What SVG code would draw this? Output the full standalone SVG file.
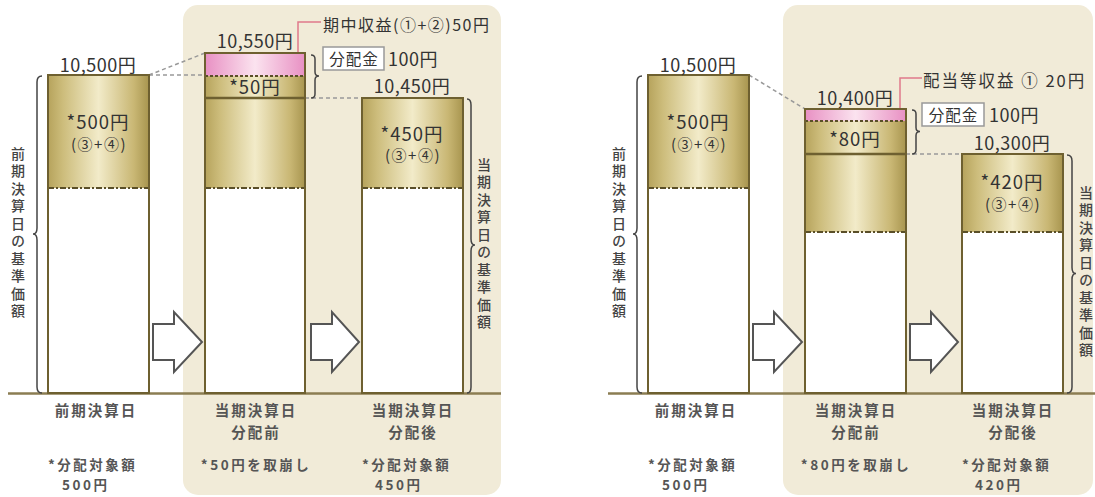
<svg xmlns="http://www.w3.org/2000/svg" width="1095" height="497" viewBox="0 0 1095 497">
<defs>
<linearGradient id="gold" x1="0" y1="0" x2="1" y2="0">
<stop offset="0" stop-color="#b6a35c"/>
<stop offset="0.15" stop-color="#cdbd7c"/>
<stop offset="0.5" stop-color="#f2ebc9"/>
<stop offset="0.85" stop-color="#c9b774"/>
<stop offset="1" stop-color="#a8954f"/>
</linearGradient>
<linearGradient id="pink" x1="0" y1="0" x2="1" y2="0">
<stop offset="0" stop-color="#e890c3"/>
<stop offset="0.5" stop-color="#fbe3ef"/>
<stop offset="1" stop-color="#e890c3"/>
</linearGradient>
</defs>
<style>
text{font-family:"Noto Sans CJK JP","Noto Sans",sans-serif;fill:#333}
.val{font-size:18px;text-anchor:middle;letter-spacing:0.5px}
.amt{font-size:18.5px;text-anchor:middle;letter-spacing:1px}
.sub{font-size:15px;text-anchor:middle;letter-spacing:1.5px}
.note{font-size:16px;letter-spacing:1.5px}
.box-t{font-size:15.5px;text-anchor:middle;letter-spacing:1px}
.lab{font-size:14.5px;font-weight:bold;fill:#555;letter-spacing:2px}
.lab2{font-size:13.5px;font-weight:bold;fill:#555;letter-spacing:2.5px}
.mid{text-anchor:middle}
.vt{font-size:14px;fill:#444;font-weight:500;writing-mode:vertical-rl;text-anchor:middle;letter-spacing:3.5px}
.panel{fill:#f1ebd8}
.gold{fill:url(#gold)}
.pinkf{fill:url(#pink)}
.white{fill:#fff}
.outline{fill:none;stroke:#6e6030;stroke-width:2}
.dashdot{stroke:#5a4f28;stroke-width:2;stroke-dasharray:6 2 2 2}
.dotted{stroke:#5a4f28;stroke-width:2;stroke-dasharray:3 2}
.solid{stroke:#6e6030;stroke-width:2.5}
.base{stroke:#8b7d52;stroke-width:2.5}
.conn{stroke:#999;stroke-width:1.5;stroke-dasharray:4 3;fill:none}
.brace{fill:none;stroke:#444;stroke-width:1.5}
.lead{fill:none;stroke:#e07a8a;stroke-width:1.5}
.box{fill:#fff;stroke:#999;stroke-width:1.5}
.arrow{fill:#fff;stroke:#555;stroke-width:2;stroke-linejoin:miter}
</style>

<rect class="panel" x="183" y="5" width="318" height="490" rx="15"/>
<rect class="panel" x="783" y="5" width="310" height="490" rx="15"/>

<g id="connectors">
<line class="base" x1="8" y1="393.5" x2="501" y2="393.5"/>
<line class="base" x1="608" y1="393.5" x2="1095" y2="393.5"/>
<path class="conn" d="M149,75 L205,53"/>
<path class="conn" d="M149,75 L205,75"/>
<path class="conn" d="M305,98 L362,98"/>
<path class="conn" d="M749,75 L805,109"/>
<path class="conn" d="M906,154 L962,154"/>
<path class="lead" d="M298,62 L298,22 L321,22"/>
<path class="lead" d="M900,114 L900,78 L922,78"/>
<polygon class="arrow" points="153,324 174,324 174,312 202,342 174,372 174,360 153,360"/>
<polygon class="arrow" points="311,324 332,324 332,312 359,342 332,372 332,360 311,360"/>
<polygon class="arrow" points="753,324 774,324 774,312 802,342 774,372 774,360 753,360"/>
<polygon class="arrow" points="910,324 931,324 931,312 958,342 931,372 931,360 910,360"/>
</g>

<g id="L-bar1">
<rect class="gold" x="48" y="75" width="101" height="113"/>
<rect class="white" x="48" y="188" width="101" height="205"/>
<line class="dashdot" x1="48" y1="188" x2="149" y2="188"/>
<rect class="outline" x="48" y="75" width="101" height="318"/>
<text class="val" x="98" y="72">10,500円</text>
<text class="amt" x="98" y="129">*500円</text>
<text class="sub" x="99" y="150">(③+④)</text>
<path class="brace" d="M42,76 Q37,76 37,82 L37,228 Q37,234 33,234 Q37,234 37,240 L37,387 Q37,393 42,393"/>
<text class="vt" x="18" y="234">前期決算日の基準価額</text>
<text class="lab mid" x="96" y="416">前期決算日</text>
<text class="lab2" x="48" y="469.5">*分配対象額</text>
<text class="lab2" x="62" y="490">500円</text>
</g>

<g id="L-bar2">
<rect class="pinkf" x="205" y="53" width="100" height="23"/>
<rect class="gold" x="205" y="76" width="100" height="112"/>
<rect class="white" x="205" y="188" width="100" height="205"/>
<line class="dotted" x1="205" y1="76" x2="305" y2="76"/>
<line class="solid" x1="205" y1="98" x2="305" y2="98"/>
<line class="dashdot" x1="205" y1="188" x2="305" y2="188"/>
<rect class="outline" x="205" y="53" width="100" height="340"/>
<text class="val" x="255" y="48">10,550円</text>
<text class="amt" x="255" y="94">*50円</text>
<text class="note" x="323" y="31">期中収益(①+②)50円</text>
<path class="brace" d="M311,55 Q315,55 315,59 L315,72 Q315,76 319,76 Q315,76 315,80 L315,94 Q315,98 311,98"/>
<rect class="box" x="323" y="47" width="61" height="23"/>
<text class="box-t" x="354" y="64.5">分配金</text>
<text class="val" x="388" y="66" style="text-anchor:start">100円</text>
<text class="lab mid" x="256" y="416">当期決算日</text>
<text class="lab mid" x="256" y="438">分配前</text>
<text class="lab2 mid" x="256" y="469.5">*50円を取崩し</text>
</g>

<g id="L-bar3">
<rect class="gold" x="362" y="98" width="101" height="90"/>
<rect class="white" x="362" y="188" width="101" height="205"/>
<line class="dashdot" x1="362" y1="188" x2="463" y2="188"/>
<rect class="outline" x="362" y="98" width="101" height="295"/>
<text class="val" x="412" y="93">10,450円</text>
<text class="amt" x="412" y="141">*450円</text>
<text class="sub" x="413" y="161">(③+④)</text>
<path class="brace" d="M467,99 Q471,99 471,105 L471,239 Q471,245 475,245 Q471,245 471,251 L471,387 Q471,393 467,393"/>
<text class="vt" x="484" y="245">当期決算日の基準価額</text>
<text class="lab mid" x="413" y="416">当期決算日</text>
<text class="lab mid" x="413" y="438">分配後</text>
<text class="lab2" x="362" y="469.5">*分配対象額</text>
<text class="lab2" x="375" y="490">450円</text>
</g>

<g id="R-bar1">
<rect class="gold" x="648" y="75" width="101" height="113"/>
<rect class="white" x="648" y="188" width="101" height="205"/>
<line class="dashdot" x1="648" y1="188" x2="749" y2="188"/>
<rect class="outline" x="648" y="75" width="101" height="318"/>
<text class="val" x="698" y="72">10,500円</text>
<text class="amt" x="698" y="129">*500円</text>
<text class="sub" x="699" y="150">(③+④)</text>
<path class="brace" d="M642,76 Q637,76 637,82 L637,228 Q637,234 633,234 Q637,234 637,240 L637,387 Q637,393 642,393"/>
<text class="vt" x="619" y="234">前期決算日の基準価額</text>
<text class="lab mid" x="696" y="416">前期決算日</text>
<text class="lab2" x="648" y="469.5">*分配対象額</text>
<text class="lab2" x="662" y="490">500円</text>
</g>

<g id="R-bar2">
<rect class="pinkf" x="805" y="109" width="101" height="12"/>
<rect class="gold" x="805" y="121" width="101" height="111"/>
<rect class="white" x="805" y="232" width="101" height="161"/>
<line class="dotted" x1="805" y1="121" x2="906" y2="121"/>
<line class="solid" x1="805" y1="154" x2="906" y2="154"/>
<line class="dashdot" x1="805" y1="232" x2="906" y2="232"/>
<rect class="outline" x="805" y="109" width="101" height="284"/>
<text class="val" x="855" y="105">10,400円</text>
<text class="amt" x="855" y="146">*80円</text>
<text class="note" x="923" y="87" style="font-size:16.5px;letter-spacing:2px">配当等収益 ① 20円</text>
<path class="brace" d="M912,110 Q916,110 916,114 L916,127.5 Q916,131.5 920,131.5 Q916,131.5 916,135.5 L916,150 Q916,154 912,154"/>
<rect class="box" x="922" y="103" width="62" height="23"/>
<text class="box-t" x="953.5" y="120.5">分配金</text>
<text class="val" x="989" y="122" style="text-anchor:start">100円</text>
<text class="lab mid" x="856" y="416">当期決算日</text>
<text class="lab mid" x="856" y="438">分配前</text>
<text class="lab2 mid" x="856" y="469.5">*80円を取崩し</text>
</g>

<g id="R-bar3">
<rect class="gold" x="962" y="154" width="101" height="78"/>
<rect class="white" x="962" y="232" width="101" height="161"/>
<line class="dashdot" x1="962" y1="232" x2="1063" y2="232"/>
<rect class="outline" x="962" y="154" width="101" height="239"/>
<text class="val" x="1012" y="150">10,300円</text>
<text class="amt" x="1012" y="189">*420円</text>
<text class="sub" x="1013" y="210">(③+④)</text>
<path class="brace" d="M1067,155 Q1072,155 1072,161 L1072,267.5 Q1072,273.5 1076,273.5 Q1072,273.5 1072,279.5 L1072,387 Q1072,393 1067,393"/>
<text class="vt" x="1086" y="273">当期決算日の基準価額</text>
<text class="lab mid" x="1013" y="416">当期決算日</text>
<text class="lab mid" x="1013" y="438">分配後</text>
<text class="lab2" x="962" y="469.5">*分配対象額</text>
<text class="lab2" x="975" y="490">420円</text>
</g>
</svg>
